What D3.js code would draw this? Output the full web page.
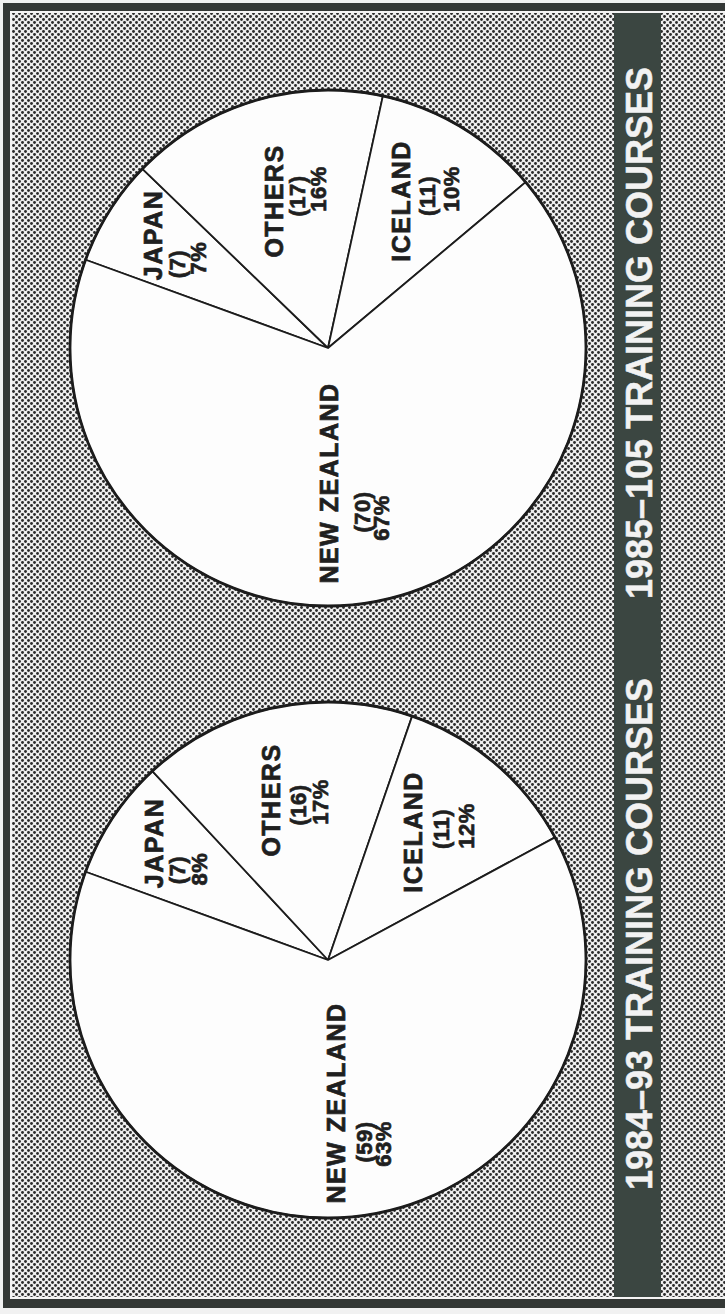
<!DOCTYPE html>
<html>
<head>
<meta charset="utf-8">
<script src="https://cdn.jsdelivr.net/npm/d3@7"></script>
<style>
  html, body { margin: 0; padding: 0; background: #f1f1f1; }
  svg { display: block; }
</style>
</head>
<body>
<script>
// Training courses by host country, two periods
const countries = ["JAPAN", "OTHERS", "ICELAND", "NEW ZEALAND"];
const courses1985 = [7, 17, 11, 70];
const courses1984 = [7, 16, 11, 59];
const periodTitles = ["1985–105 TRAINING COURSES", "1984–93 TRAINING COURSES"];

const W = 725, H = 1314;

// Where each pie sits on the page, and the hand-set spot of every label
// (name / count / percent line centres, relative to the pie centre).
const pieLayout = [
  { values: courses1985, title: periodTitles[0], cx: 328, cy: 348, titleY: 333,
    spots: [
      [[-175, -113], [-151, -84], [-130, -90]],
      [[-54, -147], [-31, -152], [-10, -159]],
      [[73, -147], [99, -152], [123, -159]],
      [[1, 135], [34, 164], [53, 170]]
    ] },
  { values: courses1984, title: periodTitles[1], cx: 328, cy: 960, titleY: 934,
    spots: [
      [[-174, -117], [-151, -90], [-129, -91]],
      [[-57, -160], [-30, -155], [-8, -158]],
      [[85, -128], [113, -131], [138, -134]],
      [[8, 143], [36, 182], [55, 184]]
    ] }
];

const radius = 258;
const deg = Math.PI / 180;

const svg = d3.select("body").append("svg")
  .attr("width", W).attr("height", H);

// halftone screen used for the page background
const defs = svg.append("defs");
const pat = defs.append("pattern")
  .attr("id", "screen").attr("patternUnits", "userSpaceOnUse")
  .attr("width", 6).attr("height", 6);
pat.append("rect").attr("width", 6).attr("height", 6).attr("fill", "#eeeeee");
[[1.5, 1.5], [4.5, 4.5]].forEach(([x, y]) =>
  pat.append("circle").attr("cx", x).attr("cy", y).attr("r", 1.45).attr("fill", "#2b2b2b"));

// frame
svg.append("rect").attr("x", 3).attr("y", 3).attr("width", W).attr("height", 1305)
  .attr("fill", "#343836");
svg.append("rect").attr("x", 10).attr("y", 11).attr("width", W).attr("height", 1288)
  .attr("fill", "#f4f4f4");
svg.append("rect").attr("x", 12).attr("y", 13).attr("width", W).attr("height", 1284)
  .attr("fill", "url(#screen)");

// dark title strip
svg.append("rect").attr("x", 614).attr("y", 13).attr("width", 47).attr("height", 1284)
  .attr("fill", "#3b4641");

const pie = d3.pie().sort(null).value(d => d)
  .startAngle(-70 * deg).endAngle(290 * deg);
const arc = d3.arc().innerRadius(0).outerRadius(radius);

pieLayout.forEach(p => {
  const total = d3.sum(p.values);
  const g = svg.append("g").attr("transform", `translate(${p.cx},${p.cy})`);

  g.selectAll("path.slice")
    .data(pie(p.values))
    .join("path")
    .attr("class", "slice")
    .attr("d", arc)
    .attr("fill", "#fdfdfd")
    .attr("stroke", "#1c1c1c")
    .attr("stroke-width", 1.8)
    .attr("stroke-linejoin", "round");

  g.append("circle").attr("r", radius)
    .attr("fill", "none").attr("stroke", "#1c1c1c").attr("stroke-width", 2.8);

  // three-line labels, reading bottom to top
  p.values.forEach((v, i) => {
    const lines = [countries[i], `(${v})`, `${Math.round(v / total * 100)}%`];
    lines.forEach((t, k) => {
      const [dx, dy] = p.spots[i][k];
      g.append("text")
        .attr("transform", `translate(${dx},${dy}) rotate(-90)`)
        .attr("text-anchor", "middle")
        .attr("dominant-baseline", "central")
        .attr("font-family", "'Liberation Sans', Arial, sans-serif")
        .attr("font-weight", "bold")
        .attr("font-size", k === 0 ? 25 : 22)
        .attr("letter-spacing", k === 0 ? 1.5 : 0.5)
        .attr("fill", "#1f1f1f")
        .attr("stroke", "#1f1f1f")
        .attr("stroke-width", 0.7)
        .text(t);
    });
  });

  // period title on the strip
  svg.append("text")
    .attr("transform", `translate(639,${p.titleY}) rotate(-90)`)
    .attr("text-anchor", "middle")
    .attr("dominant-baseline", "central")
    .attr("font-family", "'Liberation Sans', Arial, sans-serif")
    .attr("font-weight", "bold")
    .attr("font-size", 36)
    .attr("fill", "#f2f2f2")
    .attr("stroke", "#f2f2f2")
    .attr("stroke-width", 0.5)
    .text(p.title);
});
</script>
</body>
</html>
